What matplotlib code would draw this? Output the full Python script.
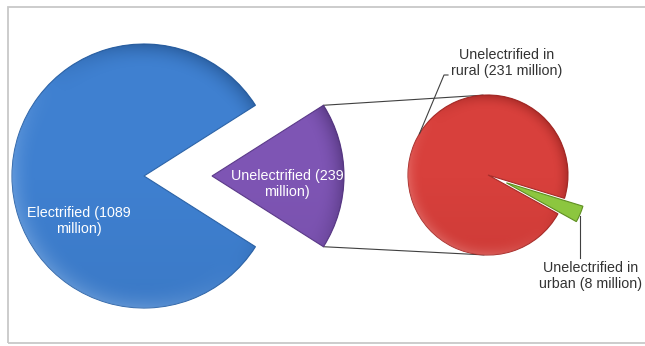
import numpy as np
import matplotlib
matplotlib.use("Agg")
import matplotlib.pyplot as plt
from matplotlib.patches import Rectangle

plt.rcParams["font.family"] = ["Liberation Sans", "DejaVu Sans"]

# Households by electrification status (million)
main_labels = ["Electrified (1089\nmillion)", "Unelectrified (239\nmillion)"]
main_values = [1089, 239]

# Breakdown of the unelectrified share
sub_labels = ["Unelectrified in\nrural (231 million)", "Unelectrified in\nurban (8 million)"]
sub_values = [231, 8]

main_colors = ["#3f80d0", "#7e55b4"]
main_edges = ["#2d64a8", "#5c3b8a"]
sub_colors = ["#d8403c", "#8cc63f"]
sub_edges = ["#a82c29", "#5f8f22"]

W, H = 645, 346
fig = plt.figure(figsize=(W / 100, H / 100), dpi=100)
ax = fig.add_axes([0, 0, 1, 1])


def shade(wedge, center, radius, dark, light):
    """Bevel-like shading: light rim top-left, darker rim bottom-right."""
    x0, y0 = center
    n = 300
    xs = np.linspace(x0 - radius * 1.6, x0 + radius * 1.6, n)
    ys = np.linspace(y0 - radius * 1.6, y0 + radius * 1.6, n)
    X, Y = np.meshgrid(xs, ys)
    img = np.zeros((n, n, 4))
    R = np.hypot(X - x0, Y - y0) / radius
    rim = np.clip((R - 0.82) / 0.18, 0, 1) ** 2
    side = (-(X - x0) - (Y - y0)) / (np.hypot(X - x0, Y - y0) + 1e-9)
    bottom = np.clip(-side, 0, 1)
    top = np.clip(side, 0, 1)
    a_dark = rim * bottom * 0.55 + 0.12 * np.clip(-(Y - y0) / radius, 0, 1)
    a_light = rim * top * 0.35
    col_d = np.array(matplotlib.colors.to_rgb(dark))
    col_l = np.array(matplotlib.colors.to_rgb(light))
    alpha = np.clip(a_dark + a_light, 0, 1)
    mix = np.where((a_dark + a_light)[..., None] > 0,
                   (a_dark[..., None] * col_d + a_light[..., None] * col_l)
                   / (a_dark + a_light + 1e-9)[..., None], 0)
    img[..., :3] = mix
    img[..., 3] = alpha
    im = ax.imshow(img, extent=(xs[0], xs[-1], ys[0], ys[-1]), origin="lower",
                   zorder=wedge.get_zorder() + 0.01, interpolation="bilinear")
    im.set_clip_path(wedge)


# main pie: the unelectrified wedge is centred on the right and pulled out
c1, r1 = (144, 170), 132
off1 = 68
frac_un = main_values[1] / sum(main_values)
start1 = 180 * frac_un
w1, _ = ax.pie(main_values, center=c1, radius=r1, startangle=start1,
               explode=[0, off1], colors=main_colors,
               wedgeprops=dict(linewidth=0.8))
for w, ec in zip(w1, main_edges):
    w.set_edgecolor(ec)
shade(w1[0], c1, r1, "#1f4c85", "#9cc3f0")
shade(w1[1], (c1[0] + off1, c1[1]), r1, "#432a68", "#c9b2e6")

# secondary pie: urban wedge pointing lower right, pulled out
c2, r2 = (488, 171), 80
off2 = 20
frac_urban = sub_values[1] / sum(sub_values)
urban_dir = -23
start2 = urban_dir - 360 * (1 - frac_urban / 2)
w2, _ = ax.pie(sub_values, center=c2, radius=r2, startangle=start2,
               explode=[0, off2], colors=sub_colors,
               wedgeprops=dict(linewidth=0.8))
for w, ec in zip(w2, sub_edges):
    w.set_edgecolor(ec)
shade(w2[0], c2, r2, "#8e1f1c", "#f39a96")

# connector lines from the outer corners of the exploded wedge, tangent to the second pie
half = np.deg2rad(start1)
for sgn in (1, -1):
    px = c1[0] + off1 + r1 * np.cos(half)
    py = c1[1] + sgn * r1 * np.sin(half)
    dx, dy = c2[0] - px, c2[1] - py
    d = np.hypot(dx, dy)
    ang = np.arctan2(dy, dx) + sgn * np.arcsin(r2 / d)
    ta = ang + sgn * np.pi / 2
    tx, ty = c2[0] + r2 * np.cos(ta), c2[1] + r2 * np.sin(ta)
    ax.plot([px, tx], [py, ty], color="#404040", lw=0.8, zorder=0.5)

fs = 10.3
ax.text(79, H - 221, main_labels[0], color="white", fontsize=fs,
        ha="center", va="center", linespacing=1.15, zorder=5)
ax.text(287, H - 184, main_labels[1], color="white", fontsize=fs,
        ha="center", va="center", linespacing=1.15, zorder=5)

# rural label with leader line
ax.text(507, H - 63, sub_labels[0], color="#333333", fontsize=fs,
        ha="center", va="center", linespacing=1.2)
la = np.deg2rad(149)
ax.plot([c2[0] + r2 * np.cos(la), 444, 448],
        [c2[1] + r2 * np.sin(la), H - 75, H - 75], color="#404040", lw=0.8,
        zorder=5)

# urban label with leader line from the wedge tip
ua = np.deg2rad(urban_dir)
tipx = c2[0] + (r2 + off2) * np.cos(ua)
tipy = c2[1] + (r2 + off2) * np.sin(ua)
ax.plot([tipx, tipx], [tipy - 2, H - 258], color="#404040", lw=0.8)
ax.text(591, H - 276, sub_labels[1], color="#333333", fontsize=fs,
        ha="center", va="center", linespacing=1.2)

# chart frame
ax.add_patch(Rectangle((8, H - 343), 700, 336, fill=False,
                       edgecolor="#c8c8c8", lw=1.3))

ax.set_xlim(0, W)
ax.set_ylim(0, H)
ax.set_aspect("equal")
ax.axis("off")
fig.savefig("out.png", dpi=100)
